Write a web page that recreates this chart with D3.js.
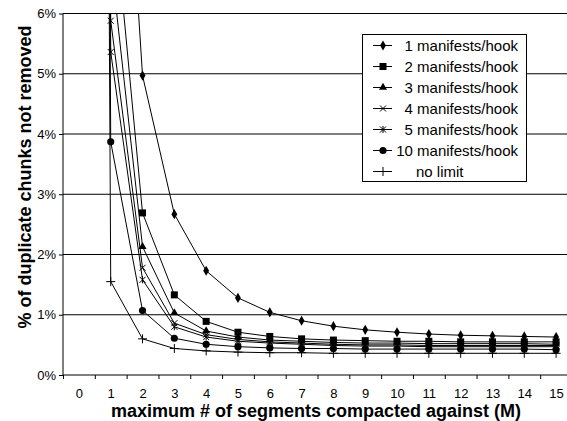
<!DOCTYPE html>
<html lang="en">
<head>
    <meta charset="UTF-8">
    <style>
      body { margin: 0; background: #fff; }
      svg { display: block; font-family: "Liberation Sans", Arial, sans-serif; }
    </style>
</head>
<body>
    <svg id="chart" width="567" height="421"></svg>

    <script src="https://d3js.org/d3.v7.min.js"></script>
    <script>

        // Data: % of duplicate chunks not removed, for M = 0..15
        var mValues = [0, 1, 2, 3, 4, 5, 6, 7, 8, 9, 10, 11, 12, 13, 14, 15];
        var oneManifest   = [100, 13.2, 4.97, 2.67, 1.73, 1.28, 1.04, 0.90, 0.81, 0.75, 0.71, 0.68, 0.66, 0.65, 0.64, 0.63];
        var twoManifests  = [100, 8.3, 2.69, 1.33, 0.89, 0.71, 0.64, 0.60, 0.58, 0.57, 0.56, 0.56, 0.55, 0.55, 0.55, 0.55];
        var threeManifests = [100, 6.9, 2.13, 1.03, 0.73, 0.63, 0.58, 0.56, 0.54, 0.53, 0.53, 0.52, 0.52, 0.52, 0.52, 0.51];
        var fourManifests = [100, 5.88, 1.78, 0.86, 0.67, 0.59, 0.55, 0.53, 0.51, 0.50, 0.50, 0.49, 0.49, 0.49, 0.49, 0.49];
        var fiveManifests = [100, 5.36, 1.58, 0.80, 0.63, 0.56, 0.53, 0.51, 0.49, 0.48, 0.48, 0.47, 0.47, 0.47, 0.47, 0.47];
        var tenManifests  = [100, 3.87, 1.07, 0.61, 0.51, 0.47, 0.45, 0.44, 0.44, 0.43, 0.43, 0.43, 0.43, 0.43, 0.43, 0.42];
        var noLimit       = [100, 1.55, 0.60, 0.44, 0.40, 0.38, 0.37, 0.37, 0.36, 0.36, 0.36, 0.36, 0.36, 0.36, 0.36, 0.36];

        var seriesNames = ["1 manifests/hook", "2 manifests/hook", "3 manifests/hook", "4 manifests/hook",
                           "5 manifests/hook", "10 manifests/hook", "no limit"];
        var seriesValues = [oneManifest, twoManifests, threeManifests, fourManifests, fiveManifests, tenManifests, noLimit];
        var seriesMarkers = ["diamond", "square", "triangle", "cross", "star", "circle", "plus"];
        var yTicks = [0, 1, 2, 3, 4, 5, 6];

        var svg = d3.select("#chart");

        // plot area (runs a little past the right edge, like the original)
        var plotL = 63, plotR = 572, plotT = 13.5, plotB = 375;

        var x = d3.scaleLinear().domain([-0.5, 15.5]).range([plotL, plotR]);
        var y = d3.scaleLinear().domain([0, 6]).range([plotB, plotT]);

        var defs = svg.append("defs");
        defs.append("clipPath").attr("id", "plot")
          .append("rect")
            .attr("x", plotL).attr("y", plotT - 4)
            .attr("width", plotR - plotL).attr("height", plotB - plotT + 4);
        defs.append("clipPath").attr("id", "lineclip")
          .append("rect")
            .attr("x", plotL).attr("y", plotT)
            .attr("width", plotR - plotL).attr("height", plotB - plotT);

        // gridlines
        svg.append("g")
          .selectAll("line")
          .data(yTicks.filter(function(d) { return d > 0; }))
          .enter().append("line")
            .attr("x1", plotL).attr("x2", plotR)
            .attr("y1", function(d) { return y(d); })
            .attr("y2", function(d) { return y(d); })
            .attr("stroke", "#000")
            .attr("stroke-width", 1);

        // y axis
        var yAxis = svg.append("g")
          .attr("transform", "translate(" + plotL + ",0)")
          .call(d3.axisLeft(y).tickValues(yTicks).tickSize(4).tickPadding(3)
            .tickFormat(function(d) { return d + "%"; }));
        yAxis.select(".domain").attr("stroke", "#000").attr("d", "M0," + plotT + "V" + plotB);
        yAxis.selectAll("text").attr("font-size", 13).attr("fill", "#000")
          .attr("font-family", "Liberation Sans, Arial, sans-serif");

        // x axis: tick marks between categories, labels at category centers
        var xTickAxis = svg.append("g")
          .attr("transform", "translate(0," + plotB + ")")
          .call(d3.axisBottom(x).tickValues(d3.range(-0.5, 15.6, 1)).tickSize(4).tickFormat(""));
        xTickAxis.select(".domain").attr("d", "M" + plotL + ",0H" + plotR).attr("stroke", "#000");

        var xLabelAxis = svg.append("g")
          .attr("transform", "translate(0," + plotB + ")")
          .call(d3.axisBottom(x).tickValues(mValues).tickSize(0).tickPadding(14));
        xLabelAxis.select(".domain").remove();
        xLabelAxis.selectAll("text").attr("font-size", 13).attr("fill", "#000")
          .attr("font-family", "Liberation Sans, Arial, sans-serif");

        // axis titles
        svg.append("text")
          .attr("x", 316).attr("y", 417)
          .attr("text-anchor", "middle")
          .attr("font-size", 18).attr("font-weight", "bold")
          .text("maximum # of segments compacted against (M)");

        svg.append("text")
          .attr("transform", "translate(31,177) rotate(-90)")
          .attr("text-anchor", "middle")
          .attr("font-size", 18).attr("font-weight", "bold")
          .text("% of duplicate chunks not removed");

        // marker drawing
        function drawMarker(g, type) {
          if (type === "diamond") {
            g.append("path").attr("d", d3.symbol(d3.symbolDiamond, 30)).attr("fill", "#000");
          } else if (type === "square") {
            g.append("rect").attr("x", -3.5).attr("y", -3.5).attr("width", 7).attr("height", 7).attr("fill", "#000");
          } else if (type === "triangle") {
            g.append("path").attr("d", d3.symbol(d3.symbolTriangle, 28)).attr("fill", "#000");
          } else if (type === "cross") {
            g.append("path").attr("d", "M-3,-3L3,3M-3,3L3,-3").attr("stroke", "#000").attr("fill", "none");
          } else if (type === "star") {
            g.append("path").attr("d", "M-3,-3L3,3M-3,3L3,-3M0,-3.5V3.5").attr("stroke", "#000").attr("fill", "none");
          } else if (type === "circle") {
            g.append("circle").attr("r", 3.6).attr("fill", "#000");
          } else if (type === "plus") {
            g.append("path").attr("d", "M-4.5,0H4.5M0,-4.5V4.5").attr("stroke", "#000").attr("fill", "none");
          }
        }

        var line = d3.line()
          .x(function(d, i) { return x(mValues[i]); })
          .y(function(d) { return y(d); });

        var plot = svg.append("g");

        seriesValues.forEach(function(values, s) {
          plot.append("path")
            .datum(values)
            .attr("d", line)
            .attr("fill", "none")
            .attr("stroke", "#000")
            .attr("stroke-width", 1)
            .attr("clip-path", "url(#lineclip)");

          var pts = plot.append("g").attr("clip-path", "url(#plot)")
            .selectAll("g")
            .data(values.map(function(v, i) { return { m: mValues[i], v: v }; })
              .filter(function(d) { return d.v <= 6.1; }))
            .enter().append("g")
              .attr("transform", function(d) { return "translate(" + x(d.m) + "," + y(d.v) + ")"; });
          pts.each(function() { drawMarker(d3.select(this), seriesMarkers[s]); });
        });

        // legend
        var legend = svg.append("g");
        legend.append("rect")
          .attr("x", 362.5).attr("y", 34.5).attr("width", 164).attr("height", 147)
          .attr("fill", "#fff").attr("stroke", "#000");

        seriesNames.forEach(function(name, i) {
          var ly = 45.5 + i * 21;
          legend.append("line")
            .attr("x1", 373).attr("x2", 392).attr("y1", ly).attr("y2", ly)
            .attr("stroke", "#000");
          var mk = legend.append("g").attr("transform", "translate(383," + ly + ")");
          drawMarker(mk, seriesMarkers[i]);
          var t = legend.append("text")
            .attr("y", ly + 5)
            .attr("font-size", 15)
            .text(name);
          if (name === "no limit") {
            t.attr("x", 416);
          } else {
            t.attr("x", 518).attr("text-anchor", "end");
          }
        });

    </script>
</body>
</html>
